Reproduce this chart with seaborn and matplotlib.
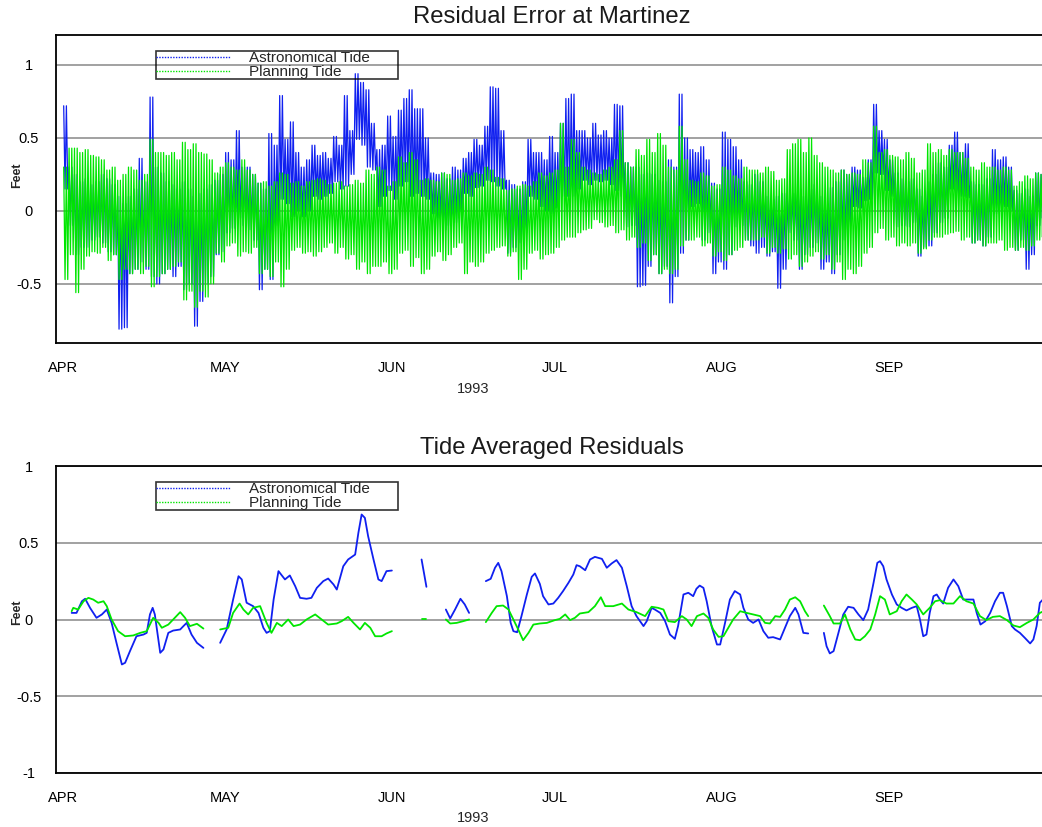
import numpy as np
import pandas as pd
import matplotlib
matplotlib.use("Agg")
import matplotlib.pyplot as plt
import matplotlib.dates as mdates
from matplotlib.ticker import MultipleLocator, FixedLocator, FuncFormatter
from matplotlib.lines import Line2D
import seaborn as sns

sns.set_style("white")
plt.rcParams["font.family"] = ["Liberation Sans", "DejaVu Sans"]
plt.rcParams["axes.unicode_minus"] = False

START = pd.Timestamp("1993-04-01")
BLUE = "#1020f0"
GREEN = "#00e600"
SERIES = ["Astronomical Tide", "Planning Tide"]
TITLES = ["Residual Error at Martinez", "Tide Averaged Residuals"]
YEAR_LABEL = "1993"
YLABEL = "Feet"

# ---- top panel: daily high / low residual (feet), day 0 = Apr 1 ----
blue_hi = [0.72, 0.30, 0.25, 0.20, 0.22, 0.18, 0.20, 0.25, 0.22, 0.18,
           0.10, 0.05, 0.10, 0.15, 0.36, 0.20, 0.78, 0.30, 0.26, 0.20,
           0.18, 0.15, 0.20, 0.15, 0.10, 0.12, 0.15, 0.18, 0.21, 0.25,
           0.40, 0.35, 0.55, 0.30, 0.30, 0.25, 0.19, 0.15, 0.53, 0.45,
           0.79, 0.49, 0.61, 0.40, 0.30, 0.35, 0.45, 0.38, 0.40, 0.36,
           0.51, 0.45, 0.79, 0.55, 0.94, 0.88, 0.83, 0.60, 0.42, 0.45,
           0.65, 0.51, 0.69, 0.77, 0.83, 0.70, 0.70, 0.50, 0.26, 0.25,
           0.26, 0.22, 0.30, 0.28, 0.36, 0.40, 0.49, 0.45, 0.58, 0.85,
           0.84, 0.55, 0.21, 0.18, 0.15, 0.20, 0.49, 0.40, 0.40, 0.35,
           0.51, 0.40, 0.60, 0.77, 0.80, 0.55, 0.55, 0.50, 0.60, 0.52,
           0.55, 0.50, 0.73, 0.72, 0.33, 0.30, 0.30, 0.25, 0.26, 0.25,
           0.21, 0.20, 0.35, 0.30, 0.80, 0.50, 0.42, 0.40, 0.44, 0.35,
           0.19, 0.15, 0.54, 0.49, 0.44, 0.35, 0.20, 0.18, 0.25, 0.20,
           0.10, 0.08, 0.10, 0.12, 0.10, 0.12, 0.15, 0.10, 0.15, 0.18,
           0.10, 0.05, 0.16, 0.20, 0.28, 0.25, 0.30, 0.28, 0.23, 0.35,
           0.73, 0.55, 0.49, 0.35, 0.26, 0.22, 0.20, 0.22, 0.15, 0.10,
           0.20, 0.25, 0.33, 0.30, 0.45, 0.54, 0.40, 0.46, 0.20, 0.18,
           0.18, 0.22, 0.42, 0.35, 0.37, 0.30, 0.14, 0.12, 0.15, 0.10,
           0.26, 0.25]
blue_lo = [0.15, -0.10, -0.30, -0.25, -0.25, -0.20, -0.18, -0.22, -0.28, -0.30,
           -0.81, -0.80, -0.43, -0.40, -0.35, -0.40, -0.45, -0.50, -0.43, -0.40,
           -0.45, -0.38, -0.54, -0.50, -0.79, -0.62, -0.50, -0.45, -0.30, -0.28,
           -0.15, -0.12, -0.05, -0.10, -0.13, -0.20, -0.54, -0.40, -0.47, -0.10,
           0.08, 0.05, -0.04, 0.00, -0.04, 0.00, 0.10, 0.08, 0.10, 0.12,
           0.20, 0.15, 0.17, 0.25, 0.49, 0.45, 0.30, 0.28, 0.03, 0.10,
           0.14, 0.08, 0.17, 0.20, 0.10, 0.12, 0.10, 0.08, -0.02, -0.05,
           -0.13, -0.10, -0.08, -0.05, 0.12, 0.10, 0.16, 0.17, 0.21, 0.20,
           0.17, 0.15, -0.29, -0.25, -0.22, -0.15, 0.10, 0.08, 0.03, 0.00,
           -0.02, 0.02, 0.10, 0.10, 0.10, 0.15, 0.21, 0.18, 0.21, 0.20,
           0.21, 0.18, 0.14, 0.10, -0.11, -0.10, -0.52, -0.51, -0.38, -0.30,
           -0.43, -0.38, -0.63, -0.45, -0.29, -0.20, 0.03, 0.05, -0.20, -0.15,
           -0.43, -0.35, -0.40, -0.30, -0.11, -0.10, -0.20, -0.24, -0.29, -0.25,
           -0.31, -0.28, -0.53, -0.40, -0.15, -0.20, -0.40, -0.30, -0.25, -0.22,
           -0.40, -0.35, -0.43, -0.30, -0.20, -0.10, 0.03, 0.02, 0.07, 0.08,
           0.26, 0.25, 0.14, 0.10, -0.11, -0.10, -0.11, -0.08, -0.31, -0.25,
           -0.24, -0.15, -0.08, -0.05, 0.15, 0.12, 0.10, 0.09, -0.22, -0.20,
           -0.24, -0.18, -0.02, 0.00, 0.03, 0.00, -0.27, -0.20, -0.40, -0.30,
           -0.10, -0.05]
green_hi = [0.30, 0.43, 0.43, 0.40, 0.42, 0.38, 0.37, 0.35, 0.28, 0.30,
            0.21, 0.25, 0.30, 0.28, 0.21, 0.25, 0.49, 0.40, 0.40, 0.38,
            0.40, 0.35, 0.47, 0.42, 0.46, 0.40, 0.39, 0.35, 0.26, 0.30,
            0.33, 0.30, 0.28, 0.35, 0.28, 0.25, 0.19, 0.20, 0.17, 0.20,
            0.26, 0.25, 0.19, 0.20, 0.17, 0.20, 0.21, 0.22, 0.21, 0.18,
            0.19, 0.20, 0.17, 0.18, 0.21, 0.19, 0.28, 0.25, 0.30, 0.28,
            0.17, 0.20, 0.37, 0.33, 0.40, 0.35, 0.21, 0.22, 0.21, 0.20,
            0.26, 0.25, 0.21, 0.22, 0.26, 0.24, 0.26, 0.25, 0.30, 0.28,
            0.23, 0.22, 0.14, 0.15, 0.17, 0.18, 0.17, 0.20, 0.26, 0.24,
            0.26, 0.28, 0.60, 0.30, 0.49, 0.40, 0.30, 0.28, 0.26, 0.25,
            0.28, 0.30, 0.35, 0.55, 0.33, 0.30, 0.42, 0.38, 0.49, 0.40,
            0.53, 0.45, 0.30, 0.28, 0.58, 0.35, 0.21, 0.20, 0.26, 0.24,
            0.17, 0.18, 0.30, 0.28, 0.24, 0.22, 0.30, 0.28, 0.28, 0.26,
            0.30, 0.27, 0.21, 0.22, 0.42, 0.46, 0.49, 0.40, 0.50, 0.38,
            0.33, 0.30, 0.28, 0.26, 0.28, 0.25, 0.26, 0.25, 0.35, 0.33,
            0.58, 0.40, 0.42, 0.38, 0.37, 0.35, 0.40, 0.36, 0.26, 0.28,
            0.46, 0.40, 0.42, 0.38, 0.42, 0.40, 0.40, 0.36, 0.30, 0.28,
            0.33, 0.30, 0.30, 0.28, 0.30, 0.28, 0.17, 0.20, 0.24, 0.22,
            0.26, 0.25]
green_lo = [-0.47, -0.30, -0.56, -0.40, -0.31, -0.28, -0.29, -0.25, -0.34, -0.30,
            -0.47, -0.40, -0.43, -0.40, -0.43, -0.38, -0.52, -0.45, -0.43, -0.40,
            -0.38, -0.35, -0.61, -0.55, -0.66, -0.55, -0.59, -0.50, -0.29, -0.35,
            -0.24, -0.22, -0.31, -0.28, -0.29, -0.25, -0.43, -0.40, -0.45, -0.35,
            -0.52, -0.40, -0.27, -0.25, -0.29, -0.28, -0.31, -0.28, -0.25, -0.22,
            -0.29, -0.25, -0.33, -0.30, -0.40, -0.35, -0.43, -0.38, -0.38, -0.35,
            -0.43, -0.40, -0.29, -0.27, -0.38, -0.32, -0.43, -0.40, -0.31, -0.28,
            -0.34, -0.30, -0.25, -0.22, -0.43, -0.35, -0.38, -0.35, -0.29, -0.27,
            -0.25, -0.24, -0.31, -0.28, -0.47, -0.40, -0.29, -0.27, -0.33, -0.30,
            -0.29, -0.25, -0.20, -0.18, -0.18, -0.15, -0.13, -0.12, -0.06, -0.08,
            -0.11, -0.10, -0.15, -0.13, -0.20, -0.18, -0.25, -0.22, -0.34, -0.30,
            -0.43, -0.40, -0.43, -0.40, -0.24, -0.20, -0.20, -0.18, -0.24, -0.22,
            -0.31, -0.28, -0.34, -0.30, -0.27, -0.25, -0.20, -0.20, -0.20, -0.18,
            -0.29, -0.25, -0.29, -0.26, -0.33, -0.30, -0.38, -0.35, -0.31, -0.28,
            -0.33, -0.30, -0.40, -0.35, -0.47, -0.40, -0.43, -0.38, -0.29, -0.25,
            -0.15, -0.12, -0.20, -0.18, -0.24, -0.22, -0.24, -0.22, -0.29, -0.26,
            -0.20, -0.18, -0.18, -0.16, -0.15, -0.14, -0.20, -0.18, -0.22, -0.20,
            -0.24, -0.22, -0.22, -0.20, -0.27, -0.25, -0.27, -0.25, -0.27, -0.24,
            -0.20, -0.18]

# ---- bottom panel: tide-averaged residuals (day offset from Apr 1, feet); None = gap ----
avg_blue_day = [1.6, 2.5, 3.5, 4.1, 5.0, 6.2, 7.2, 8.1, 9.0, 9.9, 10.9, 11.5, 12.4, 13.6,
                14.9, 15.5, 16.1, 16.6, 17.0, 18.0, 18.6, 19.5, 20.4, 21.7, 22.3, 22.9,
                23.8, 24.8, 26.0, None,
                29.1, 30.3, 31.5, 32.5, 33.1, 34.0, 35.2, 36.2, 37.1, 37.7, 38.3, 39.0,
                39.9, 41.1, 42.0, 43.0, 43.9, 45.1, 46.0, 47.0, 48.2, 49.1, 50.1, 50.7,
                51.9, 52.8, 54.1, 54.7, 55.3, 55.9, 56.5, 57.5, 58.4, 59.0, 59.9, 60.9, None,
                66.4, 67.3, None,
                70.9, 71.7, 72.6, 73.6, 74.4, 75.2, None,
                78.3, 79.2, 80.0, 80.6, 81.2, 82.2, 82.9, 83.4, 84.1, 84.9, 85.9, 86.8,
                87.4, 88.3, 88.9, 89.9, 90.8, 91.7, 92.6, 93.6, 94.5, 95.1, 95.7, 96.7,
                97.6, 98.5, 99.8, 100.7, 101.6, 102.5, 103.5, 104.4, 105.3, 106.2, 107.5,
                108.1, 109.0, 109.6, 110.6, 111.5, 112.4, 113.3, 113.9, 114.9, 115.8,
                116.7, 117.3, 117.9, 118.6, 119.2, 120.1, 121.1, 121.7, 122.6, 123.5,
                124.4, 125.4, 126.0, 126.9, 127.8, 128.8, 129.7, 130.6, 131.5, 132.8,
                133.7, 134.6, 135.6, 136.2, 137.1, 138.0, None,
                140.9, 141.4, 142.0, 142.7, 143.6, 144.5, 145.4, 146.4, 147.3, 148.2,
                149.1, 150.1, 150.8, 151.3, 151.9, 152.5, 153.5, 154.4, 155.3, 156.2,
                157.2, 158.1, 158.7, 159.3, 159.9, 160.5, 161.2, 161.8, 162.4, 163.0,
                163.9, 164.9, 165.8, 166.7, 167.7, 168.6, 169.2, 169.9, 170.8, 171.7,
                172.6, 173.5, 174.1, 174.8, 175.7, 176.3, 177.2, 178.1, 179.1, 179.7,
                180.3, 180.9, 182.0]
avg_blue_val = [0.043, 0.043, 0.119, 0.135, 0.076, 0.011, 0.033, 0.065, -0.022, -0.152,
                -0.293, -0.282, -0.206, -0.109, -0.098, -0.087, 0.033, 0.076, 0.033,
                -0.217, -0.195, -0.087, -0.072, -0.065, -0.043, -0.022, -0.098, -0.152,
                -0.185, None,
                -0.152, -0.065, 0.130, 0.282, 0.261, 0.109, 0.087, 0.043, -0.054, -0.087,
                -0.076, 0.130, 0.315, 0.261, 0.287, 0.217, 0.141, 0.135, 0.141, 0.206,
                0.250, 0.267, 0.228, 0.195, 0.347, 0.391, 0.423, 0.565, 0.684, 0.662,
                0.543, 0.391, 0.261, 0.250, 0.315, 0.319, None,
                0.391, 0.213, None,
                0.065, 0.007, 0.065, 0.135, 0.098, 0.043, None,
                0.250, 0.265, 0.337, 0.369, 0.315, 0.152, -0.022, -0.076, -0.083, 0.022,
                0.163, 0.278, 0.300, 0.232, 0.152, 0.098, 0.104, 0.141, 0.185, 0.239,
                0.293, 0.354, 0.347, 0.321, 0.391, 0.408, 0.395, 0.337, 0.365, 0.387,
                0.337, 0.217, 0.087, 0.022, -0.043, -0.011, 0.076, 0.065, 0.043, -0.011,
                -0.098, -0.126, -0.043, 0.163, 0.174, 0.152, 0.200, 0.221, 0.206, 0.119,
                -0.043, -0.163, -0.163, -0.022, 0.130, 0.185, 0.163, 0.076, 0.000,
                -0.022, 0.000, -0.076, -0.119, -0.115, -0.130, -0.054, 0.022, 0.076,
                0.033, -0.087, -0.091, None,
                -0.087, -0.174, -0.221, -0.206, -0.087, 0.033, 0.083, 0.076, 0.033,
                -0.004, 0.065, 0.239, 0.369, 0.380, 0.347, 0.261, 0.163, 0.098, 0.076,
                0.059, 0.076, 0.087, 0.000, -0.109, -0.098, 0.043, 0.152, 0.163, 0.130,
                0.104, 0.206, 0.261, 0.217, 0.130, 0.130, 0.130, 0.043, -0.033, -0.011,
                0.043, 0.119, 0.174, 0.174, 0.087, -0.043, -0.065, -0.087, -0.119,
                -0.156, -0.130, -0.043, 0.109, 0.150]
avg_green_day = [1.6, 1.9, 2.8, 3.8, 4.7, 5.6, 6.5, 7.5, 8.1, 9.0, 10.2, 11.5, 13.0, 14.3,
                 15.5, 16.7, 17.7, 18.3, 19.5, 20.4, 21.7, 22.6, 23.5, 24.8, 26.0, None,
                 29.1, 30.6, 31.5, 32.7, 33.4, 34.3, 35.2, 36.5, 37.7, 38.6, 39.6, 40.5,
                 41.7, 42.7, 43.9, 45.1, 46.7, 47.9, 49.1, 50.7, 51.6, 52.8, 53.8, 55.0,
                 55.9, 56.9, 57.8, 59.0, 59.9, 60.9, None,
                 66.4, 67.3, None,
                 70.9, 71.7, 72.9, 74.1, 75.2, None,
                 78.3, 79.4, 80.3, 81.5, 82.5, 83.4, 84.3, 85.2, 86.2, 87.1, 88.3, 89.6,
                 91.1, 92.0, 93.0, 93.9, 94.8, 95.7, 97.3, 98.5, 99.6, 100.4, 101.9,
                 103.5, 104.7, 106.2, 107.8, 109.0, 110.2, 111.2, 112.1, 113.3, 114.6,
                 115.5, 116.4, 117.4, 118.6, 119.5, 120.4, 121.4, 122.3, 123.2, 124.1,
                 125.4, 126.6, 127.8, 129.1, 130.0, 130.9, 131.9, 132.8, 133.7, 134.6,
                 135.6, 136.5, 137.4, 138.0, None,
                 140.9, 142.0, 142.7, 143.9, 144.8, 145.8, 146.7, 147.6, 148.5, 149.5,
                 150.4, 151.3, 152.2, 153.1, 154.4, 155.3, 156.2, 157.2, 158.1, 159.3,
                 160.5, 161.5, 162.4, 163.6, 164.9, 166.1, 167.3, 168.6, 169.8, 171.0,
                 172.2, 173.5, 174.8, 176.0, 177.2, 178.5, 179.7, 180.9, 182.0]
avg_green_val = [0.054, 0.076, 0.065, 0.119, 0.141, 0.130, 0.109, 0.119, 0.087, 0.000,
                 -0.076, -0.109, -0.104, -0.087, -0.076, 0.011, -0.022, -0.054, -0.033,
                 0.000, 0.048, 0.011, -0.043, -0.028, -0.059, None,
                 -0.065, -0.054, 0.043, 0.104, 0.065, 0.033, 0.076, 0.087, -0.022, -0.087,
                 -0.022, -0.043, 0.000, -0.043, -0.033, 0.000, 0.033, 0.000, -0.033,
                 -0.026, -0.011, 0.017, -0.022, -0.065, -0.022, -0.054, -0.109, -0.109,
                 -0.091, -0.076, None,
                 0.006, 0.006, None,
                 0.000, -0.026, -0.022, -0.011, 0.000, None,
                 -0.017, 0.043, 0.087, 0.091, 0.065, 0.000, -0.065, -0.135, -0.087,
                 -0.033, -0.026, -0.022, -0.004, 0.004, 0.033, -0.004, 0.011, 0.039,
                 0.048, 0.087, 0.145, 0.087, 0.087, 0.104, 0.065, 0.048, 0.022, 0.083,
                 0.076, 0.065, -0.011, -0.017, 0.022, 0.000, -0.043, 0.022, 0.039, 0.011,
                 -0.065, -0.113, -0.109, -0.054, 0.000, 0.054, 0.043, 0.033, 0.022,
                 -0.022, -0.026, 0.022, 0.017, 0.065, 0.130, 0.145, 0.119, 0.054, 0.022,
                 None,
                 0.091, 0.022, -0.026, -0.026, 0.033, -0.065, -0.130, -0.135, -0.109,
                 -0.065, 0.033, 0.152, 0.130, 0.033, 0.054, 0.119, 0.163, 0.130, 0.098,
                 0.033, 0.076, 0.119, 0.126, 0.104, 0.104, 0.152, 0.119, 0.104, 0.022,
                 -0.004, 0.017, 0.022, -0.004, -0.039, -0.050, -0.022, 0.000, 0.043, 0.060]


def hourly_frame(hi, lo, name):
    # semidiurnal tide: two highs and two lows per day at the day's observed extremes
    days = np.arange(len(hi), dtype=float)
    hi = np.asarray(hi)
    lo = np.asarray(lo)
    t = np.concatenate([days + 0.125, days + 0.375, days + 0.625, days + 0.875])
    v = np.concatenate([hi, lo, hi, lo])
    order = np.argsort(t, kind="stable")
    return pd.DataFrame({"time": START + pd.to_timedelta(t[order], unit="D"),
                         "value": v[order], "series": name})


def averaged_frame(day, val, name):
    rows, seg = [], 0
    for d, v in zip(day, val):
        if d is None:
            seg += 1
            continue
        rows.append((START + pd.Timedelta(days=d), v, seg))
    df = pd.DataFrame(rows, columns=["time", "value", "seg"])
    df["series"] = name
    return df


top_b = hourly_frame(blue_hi, blue_lo, SERIES[0])
top_g = hourly_frame(green_hi, green_lo, SERIES[1])
bot_b = averaged_frame(avg_blue_day, avg_blue_val, SERIES[0])
bot_g = averaged_frame(avg_green_day, avg_green_val, SERIES[1])

W, H = 1042, 827
fig = plt.figure(figsize=(W / 100, H / 100), dpi=100)
x0, x1 = 56, 1047
ax_top = fig.add_axes([x0 / W, 1 - 343 / H, (x1 - x0) / W, (343 - 35) / H])
ax_bot = fig.add_axes([x0 / W, 1 - 773 / H, (x1 - x0) / W, (773 - 466) / H])

sns.lineplot(data=top_b, x="time", y="value", color=BLUE, lw=0.9, ax=ax_top,
             estimator=None, sort=False, legend=False)
sns.lineplot(data=top_g, x="time", y="value", color=GREEN, lw=0.9, ax=ax_top,
             estimator=None, sort=False, legend=False)
sns.lineplot(data=bot_b, x="time", y="value", units="seg", color=BLUE, lw=1.3,
             ax=ax_bot, estimator=None, sort=False, legend=False)
sns.lineplot(data=bot_g, x="time", y="value", units="seg", color=GREEN, lw=1.3,
             ax=ax_bot, estimator=None, sort=False, legend=False)

xmin = START - pd.Timedelta(days=1.3)
xmax = START + pd.Timedelta(days=(x1 - 63) / 5.4)

month_fmt = FuncFormatter(lambda x, pos: mdates.num2date(x).strftime("%b").upper())

for ax, title, ylim, yticks, ylab_y in [
        (ax_top, TITLES[0], (-0.905, 1.205), [-0.5, 0, 0.5, 1], 0.545),
        (ax_bot, TITLES[1], (-1.0, 1.0), [-1, -0.5, 0, 0.5, 1], 0.524)]:
    ax.set_xlim(xmin, xmax)
    ax.set_ylim(*ylim)
    ax.yaxis.set_major_locator(FixedLocator(yticks))
    ax.yaxis.set_minor_locator(MultipleLocator(0.125))
    ax.yaxis.set_major_formatter(FuncFormatter(lambda v, p: f"{v:g}"))
    ax.xaxis.set_major_locator(mdates.MonthLocator())
    ax.xaxis.set_minor_locator(mdates.MonthLocator(bymonthday=16))
    ax.xaxis.set_major_formatter(month_fmt)
    ax.tick_params(axis="both", which="major", direction="in", length=6, width=1,
                   labelsize=10.5, colors="black")
    ax.tick_params(axis="both", which="minor", direction="in", length=3, width=1)
    ax.tick_params(axis="x", which="major", pad=13)
    ax.tick_params(axis="y", which="major", pad=19.5)
    for lab in ax.get_yticklabels():
        lab.set_horizontalalignment("center")
    ax.grid(False)
    ax.grid(axis="y", which="major", color="#9a9a9a", lw=1.3)
    ax.set_axisbelow(True)
    for s in ["top", "left", "bottom"]:
        ax.spines[s].set_color("black")
        ax.spines[s].set_linewidth(1.3)
    ax.spines["right"].set_visible(False)
    ax.set_title(title, fontsize=17.2, pad=8.5, color="#1a1a1a")
    ax.set_xlabel(YEAR_LABEL, fontsize=10.5)
    ax.xaxis.set_label_coords((473 - x0) / (x1 - x0), -0.125)
    ax.set_ylabel(YLABEL, fontsize=9, fontweight="bold")
    ax.yaxis.set_label_coords(-0.033, ylab_y)
    handles = [Line2D([], [], color=BLUE, lw=1.0, ls=(0, (1, 1))),
               Line2D([], [], color=GREEN, lw=1.0, ls=(0, (1, 1)))]
    leg = ax.legend(handles, SERIES, loc="upper left",
                    bbox_to_anchor=((156 - x0) / (x1 - x0), 0.948 - 0.104,
                                    (398 - 156) / (x1 - x0), 0.104),
                    mode="expand",
                    frameon=True, fancybox=False, edgecolor="black",
                    facecolor="none", fontsize=11,
                    handlelength=4.9, handletextpad=1.2, borderpad=0.0,
                    labelspacing=0.0, borderaxespad=0)
    leg.get_frame().set_linewidth(1.2)

fig.savefig("out.png", dpi=100)
